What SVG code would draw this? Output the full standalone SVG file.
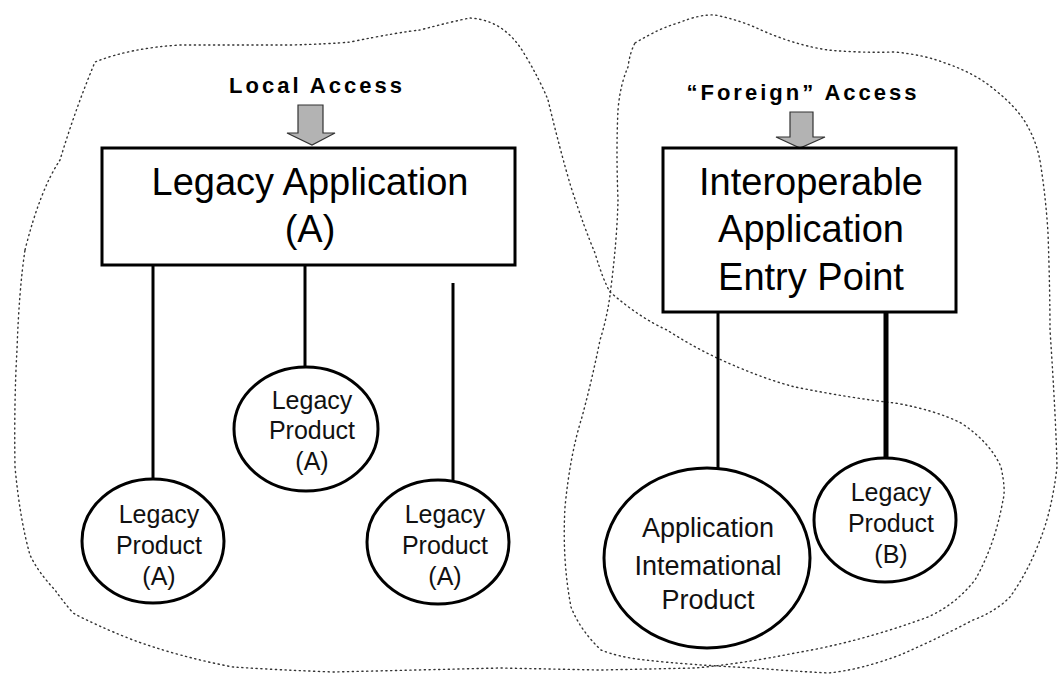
<svg xmlns="http://www.w3.org/2000/svg" width="1058" height="679" viewBox="0 0 1058 679">
<style>
.bg{fill:#ffffff}
.dot{fill:none;stroke:#333;stroke-width:1.4;stroke-dasharray:1.2 3.6;stroke-linejoin:round;stroke-linecap:round}
.box{fill:#ffffff;stroke:#000;stroke-width:3}
.ell{fill:#ffffff;stroke:#000;stroke-width:3}
.ln{stroke:#000;stroke-width:3;fill:none}
.lnb{stroke:#000;stroke-width:5;fill:none}
.arr{fill:#b3b3b3;stroke:#333;stroke-width:1.2}
.big{font-family:"Liberation Sans",Arial,sans-serif;font-size:38px;fill:#000;text-anchor:middle}
.hd{font-family:"Liberation Sans",Arial,sans-serif;font-size:22px;font-weight:bold;fill:#000;text-anchor:middle;letter-spacing:3px}
.sm{font-family:"Liberation Sans",Arial,sans-serif;font-size:25px;fill:#111;text-anchor:middle}
.md{font-family:"Liberation Sans",Arial,sans-serif;font-size:27px;fill:#111;text-anchor:middle}
</style>
<rect class="bg" x="0" y="0" width="1058" height="679"/>
<g id="domains">
<path id="legacy-domain" class="dot" d="M25,250 Q40,190 60,160 Q75,110 95,62 Q130,48 180,45 L290,45 Q330,44 350,42 Q400,32 420,30 Q450,22 470,18 Q505,20 525,55 Q540,80 548,100 Q560,150 571,187 Q585,230 595,253 Q603,280 610,292 Q640,318 667,330 Q690,345 715,357 Q760,378 795,387 Q850,398 895,403 Q935,410 961,423 Q990,442 1001,467 Q1006,490 1003,500 Q995,545 975,580 Q955,605 928,617 Q860,642 795,653 Q740,664 695,668 L600,670 L500,668 L333,672 Q280,670 233,667 Q180,657 133,640 Q95,625 73,613 Q62,600 55,590 Q38,572 30,555 Q20,520 15,467 Q14,400 17,350 Q19,290 25,250 Z"/>
<path id="foreign-domain" class="dot" d="M635,43 Q660,28 678,23 Q700,14 715,15 Q740,20 761,30 Q795,45 828,50 Q860,53 895,52 Q925,55 945,63 Q975,73 995,90 Q1018,108 1028,127 Q1038,145 1041,167 Q1046,200 1048,233 Q1050,290 1050,330 Q1056,420 1057,467 Q1052,510 1040,540 Q1028,572 1010,597 Q995,612 973,620 Q935,640 900,655 Q860,670 828,673 Q790,671 755,668 Q690,665 645,660 Q618,657 601,650 Q580,630 571,607 Q562,560 565,507 Q570,455 582,417 Q592,380 600,340 Q608,315 611,287 Q617,240 618,200 Q616,150 618,110 Q620,85 628,67 Q630,52 635,43 Z"/>
</g>
<g id="connectors">
<line class="ln" x1="153" y1="265" x2="153" y2="480"/>
<line class="ln" x1="305" y1="265" x2="305" y2="368"/>
<line class="ln" x1="453" y1="283" x2="453" y2="481"/>
<line class="ln" x1="718" y1="312" x2="718" y2="469"/>
<line class="lnb" x1="886" y1="312" x2="886" y2="460"/>
<path id="arrow-local" class="arr" d="M298,105 L323,105 L323,133 L335,133 L312,145 L287,133 L298,133 Z"/>
<path id="arrow-foreign" class="arr" d="M790,112 L813,112 L813,137 L825,137 L800,148 L776,137 L790,137 Z"/>
</g>
<g id="label-local">
<text class="hd" x="317" y="93">Local Access</text>
</g>
<g id="label-foreign">
<text class="hd" x="803" y="100">“Foreign” Access</text>
</g>
<g id="legacy-app">
<rect class="box" x="102" y="148" width="413" height="117"/>
<text class="big" x="310" y="195">Legacy Application</text>
<text class="big" x="310" y="242">(A)</text>
</g>
<g id="interop-app">
<rect class="box" x="663" y="148" width="293" height="164"/>
<text class="big" x="811" y="195">Interoperable</text>
<text class="big" x="811" y="242">Application</text>
<text class="big" x="811" y="290">Entry Point</text>
</g>
<g id="legacy-product-1">
<ellipse class="ell" cx="153" cy="541" rx="71" ry="62"/>
<text class="sm" x="159" y="523">Legacy</text>
<text class="sm" x="159" y="554">Product</text>
<text class="sm" x="159" y="585">(A)</text>
</g>
<g id="legacy-product-2">
<ellipse class="ell" cx="306" cy="429" rx="72" ry="62"/>
<text class="sm" x="312" y="409">Legacy</text>
<text class="sm" x="312" y="439">Product</text>
<text class="sm" x="312" y="470">(A)</text>
</g>
<g id="legacy-product-3">
<ellipse class="ell" cx="438" cy="542" rx="71" ry="62"/>
<text class="sm" x="445" y="523">Legacy</text>
<text class="sm" x="445" y="554">Product</text>
<text class="sm" x="445" y="585">(A)</text>
</g>
<g id="intl-product">
<ellipse class="ell" cx="707" cy="558" rx="103" ry="90"/>
<text class="md" x="708" y="537">Application</text>
<text class="md" x="708" y="575">Intemational</text>
<text class="md" x="708" y="609">Product</text>
</g>
<g id="legacy-product-b">
<ellipse class="ell" cx="885" cy="520" rx="71" ry="62"/>
<text class="sm" x="891" y="501">Legacy</text>
<text class="sm" x="891" y="532">Product</text>
<text class="sm" x="891" y="563">(B)</text>
</g>
</svg>
